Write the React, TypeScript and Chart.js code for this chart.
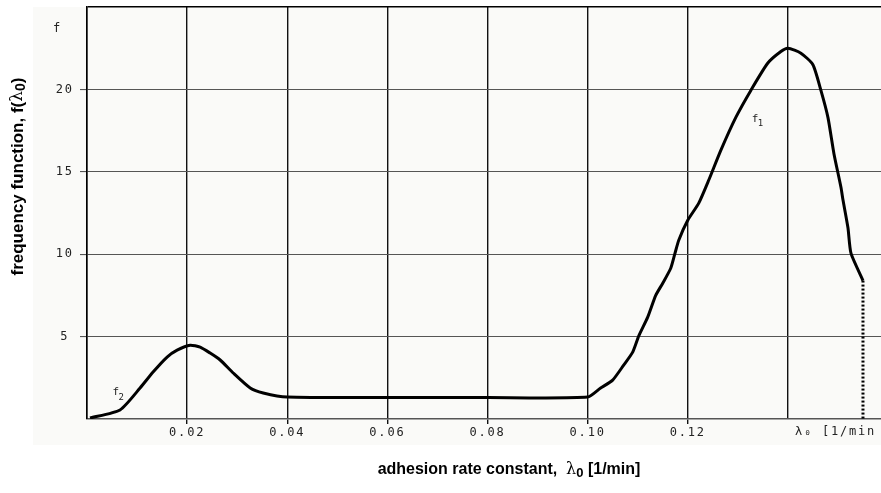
import React, { useEffect, useRef } from "react";
import { Chart, registerables } from "chart.js";

Chart.register(...registerables);

// adhesion rate constant λ0 [1/min]
const xValues = [
  0.0006, 0.0066, 0.0106, 0.0132, 0.016, 0.018, 0.0206, 0.0226, 0.0246, 0.0266,
  0.0292, 0.0326, 0.0352, 0.04, 0.06, 0.08, 0.1, 0.1026, 0.105, 0.1072, 0.109,
  0.1102, 0.112, 0.1136, 0.115, 0.1166, 0.1174, 0.1182, 0.12, 0.1222, 0.1242,
  0.1266, 0.1296, 0.1326, 0.136, 0.1386, 0.14, 0.1426, 0.145, 0.1466, 0.148,
  0.1492, 0.1506, 0.151, 0.152, 0.1526, 0.155,
];
// frequency function f(λ0)
const fValues = [
  0.06, 0.55, 1.88, 2.85, 3.76, 4.18, 4.48, 4.36, 4.0, 3.58,
  2.79, 1.88, 1.58, 1.33, 1.3, 1.3, 1.33, 1.88, 2.36, 3.27, 4.06,
  5.03, 6.18, 7.5, 8.24, 9.15, 10.0, 10.85, 12.06, 13.1, 14.5,
  16.3, 18.3, 19.94, 21.6, 22.3, 22.5, 22.2, 21.5, 19.94, 18.3,
  16.1, 14.06, 13.3, 11.6, 10.06, 8.4,
];
// dotted drop at the end of the curve
const dropX = [0.155, 0.155];
const dropF = [8.4, 0];

const xMin = 0;
const xMax = 0.1586;
const xStep = 0.02;
const yMin = 0;
const yMax = 25;
const yStep = 5;
const xTickLabels = ["", "0.02", "0.04", "0.06", "0.08", "0.10", "0.12", ""];
const yTickLabels = ["", "5", "10", "15", "20", ""];

const xTitleParts = ["adhesion rate constant,  ", "λ", "0", " [1/min]"];
const yTitleParts = ["frequency function, f(", "λ", "0", ")"];
const axisUnitLabel = "λ₀ [1/min";

const MONO = '"DejaVu Sans Mono"';
const SPACING = "1.8px";

type Seg = { text: string; font: string; dy: number };

function drawSegs(ctx: CanvasRenderingContext2D, segs: Seg[], cx: number, cy: number) {
  let total = 0;
  const widths = segs.map((s) => {
    ctx.font = s.font;
    const w = ctx.measureText(s.text).width;
    total += w;
    return w;
  });
  let x = cx - total / 2;
  ctx.textAlign = "left";
  ctx.textBaseline = "middle";
  segs.forEach((s, i) => {
    ctx.font = s.font;
    ctx.fillText(s.text, x, cy + s.dy);
    x += widths[i];
  });
}

function titleSegs(parts: string[], size: number): Seg[] {
  return [
    { text: parts[0], font: `bold ${size}px "Liberation Sans"`, dy: 0 },
    { text: parts[1], font: `${size}px "DejaVu Serif"`, dy: 0 },
    { text: parts[2], font: `bold ${size - 3}px "Liberation Sans"`, dy: 3 },
    { text: parts[3], font: `bold ${size}px "Liberation Sans"`, dy: 0 },
  ];
}

const decorPlugin = {
  id: "decor",
  beforeDraw(chart: any) {
    const ctx = chart.ctx as CanvasRenderingContext2D;
    ctx.save();
    ctx.fillStyle = "#fafaf8";
    ctx.fillRect(33, chart.chartArea.top, chart.width - 33, 445 - chart.chartArea.top);
    ctx.restore();
    (ctx as any).letterSpacing = SPACING;
  },
  afterDraw(chart: any) {
    const ctx = chart.ctx as CanvasRenderingContext2D;
    const xs = chart.scales.x;
    const ys = chart.scales.y;
    ctx.save();
    (ctx as any).letterSpacing = "0px";
    ctx.fillStyle = "#000";
    // axis titles
    drawSegs(ctx, titleSegs(xTitleParts, 16), 509, 470);
    ctx.save();
    ctx.translate(18, 176.5);
    ctx.rotate(-Math.PI / 2);
    drawSegs(ctx, titleSegs(yTitleParts, 17), 0, 0);
    ctx.restore();

    // small pixel-font labels
    ctx.fillStyle = "#222";
    (ctx as any).letterSpacing = SPACING;
    ctx.font = `12px ${MONO}`;
    ctx.textBaseline = "middle";
    ctx.textAlign = "left";
    ctx.fillText("f", 53, ys.getPixelForValue(23.7));
    ctx.fillText(axisUnitLabel, xs.getPixelForValue(0.14) + 7, xs.top + 12.5);

    const sub = (t: string, s: string, xv: number, yv: number) => {
      const px = xs.getPixelForValue(xv);
      const py = ys.getPixelForValue(yv);
      (ctx as any).letterSpacing = "0px";
      ctx.font = `11px ${MONO}`;
      ctx.fillText(t, px - 3, py);
      ctx.font = `9px ${MONO}`;
      ctx.fillText(s, px + 3, py + 5);
    };
    sub("f", "1", 0.1334, 18.2);
    sub("f", "2", 0.0057, 1.6);
    ctx.restore();
  },
};

const near = (a: number, b: number) => Math.abs(a - b) < 1e-6;

export default function App() {
  const ref = useRef<HTMLCanvasElement>(null);
  useEffect(() => {
    if (!ref.current) return;
    const curve = xValues.map((x, i) => ({ x, y: fValues[i] }));
    const drop = dropX.map((x, i) => ({ x, y: dropF[i] }));
    const chart = new Chart(ref.current, {
      type: "line",
      data: {
        datasets: [
          {
            data: curve,
            borderColor: "#000",
            borderWidth: 3,
            pointRadius: 0,
            tension: 0.2,
            fill: false,
          },
          {
            data: drop,
            borderColor: "#000",
            borderWidth: 3,
            borderDash: [2, 2],
            pointRadius: 0,
            fill: false,
          },
        ],
      },
      options: {
        animation: false,
        responsive: false,
        layout: { padding: { top: 7, left: 0, right: 0, bottom: 0 } },
        plugins: { legend: { display: false }, tooltip: { enabled: false } },
        scales: {
          x: {
            type: "linear",
            min: xMin,
            max: xMax,
            afterFit: (s: any) => {
              s.height = 74;
              s.paddingLeft = 0;
              s.paddingRight = 0;
            },
            ticks: {
              stepSize: xStep,
              includeBounds: false,
              autoSkip: false,
              maxRotation: 0,
              padding: 2,
              color: "#222",
              font: { family: "DejaVu Sans Mono", size: 12 },
              callback: (v: any) => {
                const i = Math.round(Number(v) / xStep);
                return xTickLabels[i] ?? "";
              },
            },
            grid: {
              drawOnChartArea: true,
              tickLength: 5,
              color: (c: any) => (c.tick && near(c.tick.value, 0) ? "#000" : "#111"),
              lineWidth: 1.4,
              tickColor: (c: any) => {
                const v = c.tick ? c.tick.value : 0;
                return near(v, 0) || near(v, 0.14) ? "rgba(0,0,0,0)" : "#111";
              },
            },
            border: { display: true, color: "#555", width: 1.5 },
          },
          y: {
            type: "linear",
            min: yMin,
            max: yMax,
            afterFit: (s: any) => {
              s.width = 87;
              s.paddingTop = 0;
              s.paddingBottom = 0;
            },
            ticks: {
              stepSize: yStep,
              padding: 8,
              crossAlign: "center",
              color: "#222",
              font: { family: "DejaVu Sans Mono", size: 12 },
              callback: (v: any) => {
                const i = Math.round(Number(v) / yStep);
                return yTickLabels[i] ?? "";
              },
            },
            grid: {
              tickLength: 7,
              color: (c: any) => (c.tick && near(c.tick.value, yMax) ? "#000" : "#555"),
              lineWidth: (c: any) => (c.tick && near(c.tick.value, yMax) ? 1.5 : 1.1),
              tickColor: (c: any) => {
                const v = c.tick ? c.tick.value : 0;
                return near(v, 0) || near(v, yMax) ? "rgba(0,0,0,0)" : "#555";
              },
            },
            border: { display: true, color: "#000", width: 1.5 },
          },
        },
      },
      plugins: [decorPlugin],
    } as any);
    return () => chart.destroy();
  }, []);
  return (
    <div style={{ position: "absolute", left: 0, top: 0, width: 881, height: 493, background: "#fff" }}>
      <canvas ref={ref} width={881} height={493} style={{ display: "block" }} />
    </div>
  );
}
